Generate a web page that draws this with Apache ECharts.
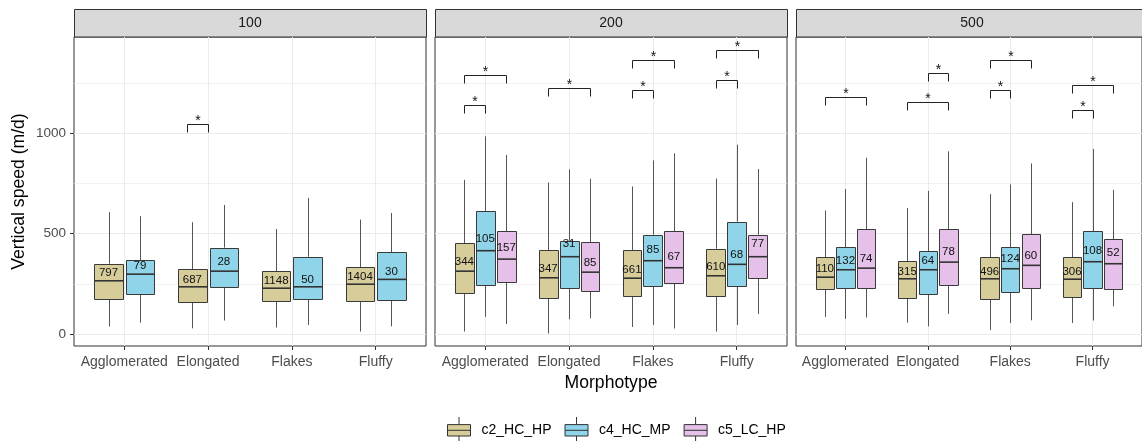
<!DOCTYPE html>
<html>
<head>
<meta charset="utf-8">
<script src="https://cdn.jsdelivr.net/npm/echarts@6/dist/echarts.min.js"></script>
<style>
    html, body { margin: 0; padding: 0; background: #fff; }
    #chart { width: 1142px; height: 441px; }
</style>
</head>
<body>
<div id="chart"></div>
<script>
// 分面：流速档位；每格里按形态分组的箱线图
const panels = ['100', '200', '500'];
const categories = ['Agglomerated', 'Elongated', 'Flakes', 'Fluffy'];
const groups = ['c2_HC_HP', 'c4_HC_MP', 'c5_LC_HP'];
const yMajor = [0, 500, 1000];
const yMinor = [250, 750, 1250];

// 每个箱子：[下须, Q1, 中位数, Q3, 上须]
const box100_c2 = [[37, 176, 265, 350, 607], [28, 159, 235, 322, 557], [32, 163, 228, 312, 523], [12, 163, 248, 332, 570]];
const box100_c4 = [[57, 200, 298, 367, 587], [67, 232, 313, 430, 643], [45, 172, 235, 385, 678], [38, 167, 272, 408, 603]];
const box200_c2 = [[12, 202, 313, 452, 768], [2, 178, 280, 417, 755], [35, 188, 278, 418, 735], [12, 190, 290, 425, 775]];
const box200_c4 = [[85, 243, 415, 612, 985], [73, 227, 385, 465, 820], [45, 240, 365, 495, 865], [45, 240, 347, 560, 943]];
const box200_c5 = [[50, 258, 373, 512, 892], [78, 213, 308, 458, 773], [27, 252, 330, 512, 900], [100, 277, 385, 495, 822]];
const box500_c2 = [[85, 222, 283, 383, 615], [57, 177, 275, 362, 628], [20, 173, 275, 383, 697], [55, 183, 273, 382, 657]];
const box500_c4 = [[75, 230, 320, 432, 722], [38, 198, 320, 413, 713], [55, 208, 325, 432, 745], [67, 227, 360, 512, 922]];
const box500_c5 = [[82, 228, 328, 523, 878], [100, 243, 358, 522, 910], [68, 227, 342, 497, 850], [138, 223, 350, 473, 718]];

// 样本数 n（标注在均值处）
const n100_c2 = [797, 687, 1148, 1404];
const n100_c4 = [79, 28, 50, 30];
const n200_c2 = [344, 347, 661, 610];
const n200_c4 = [105, 31, 85, 68];
const n200_c5 = [157, 85, 67, 77];
const n500_c2 = [110, 315, 496, 306];
const n500_c4 = [132, 64, 124, 108];
const n500_c5 = [74, 78, 60, 52];

// 均值
const mean100_c2 = [307, 268, 265, 285];
const mean100_c4 = [342, 360, 268, 310];
const mean200_c2 = [360, 325, 320, 335];
const mean200_c4 = [475, 448, 420, 395];
const mean200_c5 = [428, 357, 382, 447];
const mean500_c2 = [325, 310, 310, 310];
const mean500_c4 = [365, 365, 375, 412];
const mean500_c5 = [375, 410, 388, 402];

// 显著性括号：[形态序号, 组A, 组B, 高度]
const sig100 = [[1, 0, 1, 1047]];
const sig200 = [[0, 0, 1, 1142], [0, 0, 2, 1292], [1, 0, 2, 1228], [2, 0, 1, 1218], [2, 0, 2, 1367], [3, 0, 1, 1268], [3, 0, 2, 1417]];
const sig500 = [[0, 0, 2, 1180], [1, 0, 2, 1158], [1, 1, 2, 1303], [2, 0, 1, 1218], [2, 0, 2, 1363], [3, 0, 1, 1117], [3, 0, 2, 1243]];

const colors = ['#d6cd9b', '#8fd4e8', '#e5c0e8'];
const font = '"Liberation Sans", Arial, sans-serif';
const panelLeft = [74, 435, 796];
const panelWidth = 352;
const panelTop = 37;
const panelHeight = 309;
const yMin = -60;
const yMax = 1480;

const panelBoxes = [
    [[0, box100_c2, n100_c2, mean100_c2], [1, box100_c4, n100_c4, mean100_c4]],
    [[0, box200_c2, n200_c2, mean200_c2], [1, box200_c4, n200_c4, mean200_c4], [2, box200_c5, n200_c5, mean200_c5]],
    [[0, box500_c2, n500_c2, mean500_c2], [1, box500_c4, n500_c4, mean500_c4], [2, box500_c5, n500_c5, mean500_c5]]
];
const panelSig = [sig100, sig200, sig500];
const sigOffset = [-0.25, 0, 0.25];

const crisp = (v) => Math.round(v) + 0.5;

function boxSeries(gi, gIdx, stats, n, means, offset, width) {
    return {
        type: 'custom',
        name: groups[gIdx],
        xAxisIndex: gi,
        yAxisIndex: gi * 2,
        z: 3,
        itemStyle: { color: colors[gIdx], borderColor: '#333', borderWidth: 1 },
        data: stats.map((s, i) => [i + 1, s[0], s[1], s[2], s[3], s[4], n[i], means[i]]),
        encode: { x: 0, y: [1, 5] },
        renderItem: (params, api) => {
            const cx = api.value(0) + offset;
            const low = api.coord([cx, api.value(1)]);
            const q1 = api.coord([cx, api.value(2)]);
            const med = api.coord([cx, api.value(3)]);
            const q3 = api.coord([cx, api.value(4)]);
            const high = api.coord([cx, api.value(5)]);
            const mean = api.coord([cx, api.value(7)]);
            const half = api.size([width, 0])[0] / 2;
            const x = crisp(q3[0]);
            const left = crisp(q3[0] - half);
            const right = crisp(q3[0] + half);
            return {
                type: 'group',
                children: [
                    { type: 'line', shape: { x1: x, y1: high[1], x2: x, y2: q3[1] }, style: { stroke: '#555', lineWidth: 1 } },
                    { type: 'line', shape: { x1: x, y1: q1[1], x2: x, y2: low[1] }, style: { stroke: '#555', lineWidth: 1 } },
                    {
                        type: 'rect',
                        shape: { x: left, y: crisp(q3[1]), width: right - left, height: Math.round(q1[1]) - Math.round(q3[1]) },
                        style: { fill: colors[gIdx], stroke: '#3a3a3a', lineWidth: 1 }
                    },
                    { type: 'line', shape: { x1: left, y1: med[1], x2: right, y2: med[1] }, style: { stroke: '#333', lineWidth: 1.6 } },
                    {
                        type: 'text',
                        style: {
                            text: String(api.value(6)), x: mean[0], y: mean[1],
                            align: 'center', verticalAlign: 'middle',
                            fontSize: 11.5, fontFamily: font, fill: '#111'
                        }
                    }
                ]
            };
        }
    };
}

function sigSeries(gi, rows) {
    return {
        type: 'custom',
        name: 'sig',
        xAxisIndex: gi,
        yAxisIndex: gi * 2,
        z: 4,
        data: rows,
        encode: { x: 0, y: 3 },
        renderItem: (params, api) => {
            const cat = api.value(0) + 1;
            const y = api.value(3);
            const a = api.coord([cat + sigOffset[api.value(1)], y]);
            const b = api.coord([cat + sigOffset[api.value(2)], y]);
            const ly = crisp(a[1]);
            const x1 = crisp(a[0]);
            const x2 = crisp(b[0]);
            return {
                type: 'group',
                children: [
                    {
                        type: 'polyline',
                        shape: { points: [[x1, ly + 8], [x1, ly], [x2, ly], [x2, ly + 8]] },
                        style: { stroke: '#222', lineWidth: 1, fill: null }
                    },
                    {
                        type: 'text',
                        style: {
                            text: '*', x: (x1 + x2) / 2, y: ly - 3,
                            align: 'center', verticalAlign: 'middle',
                            fontSize: 14, fontFamily: font, fill: '#111'
                        }
                    }
                ]
            };
        }
    };
}

const grid = panels.map((p, gi) => ({
    left: panelLeft[gi],
    top: panelTop,
    width: panelWidth,
    height: panelHeight,
    show: true,
    borderColor: '#333',
    borderWidth: 1,
    backgroundColor: '#fff'
}));

const xAxis = panels.map((p, gi) => ({
    gridIndex: gi,
    type: 'value',
    min: 0.4,
    max: 4.6,
    axisLine: { show: false, onZero: false },
    axisTick: { show: true, length: 4, customValues: [1, 2, 3, 4], lineStyle: { color: '#333' } },
    axisLabel: {
        customValues: [1, 2, 3, 4],
        formatter: (v) => categories[Math.round(v) - 1],
        color: '#4d4d4d', fontSize: 14, fontFamily: font, margin: 9
    },
    splitLine: { show: true, lineStyle: { color: '#ebebeb', width: 1 } },
    name: gi === 1 ? 'Morphotype' : '',
    nameLocation: 'middle',
    nameGap: 26,
    nameTextStyle: { fontSize: 17.6, color: '#000', fontFamily: font }
}));

const yAxis = [];
panels.forEach((p, gi) => {
    yAxis.push({
        gridIndex: gi,
        type: 'value',
        min: yMin,
        max: yMax,
        axisLine: { show: false, onZero: false },
        axisTick: { show: gi === 0, length: 4, customValues: yMajor, lineStyle: { color: '#333' } },
        axisLabel: {
            show: gi === 0, customValues: yMajor, formatter: (v) => String(v),
            color: '#4d4d4d', fontSize: 13.5, fontFamily: font, margin: 8
        },
        splitLine: { show: true, lineStyle: { color: '#ebebeb', width: 1 } },
        name: gi === 0 ? 'Vertical speed (m/d)' : '',
        nameLocation: 'middle',
        nameGap: 46,
        nameTextStyle: { fontSize: 17.6, color: '#000', fontFamily: font }
    });
    yAxis.push({
        gridIndex: gi,
        type: 'value',
        min: yMin,
        max: yMax,
        axisLine: { show: false, onZero: false },
        axisTick: { show: false, customValues: yMinor },
        axisLabel: { show: false },
        splitLine: { show: true, lineStyle: { color: '#ebebeb', width: 0.7 } }
    });
});

const series = [];
panelBoxes.forEach((list, gi) => {
    const two = list.length === 2;
    list.forEach(([gIdx, stats, n, means], k) => {
        const offset = two ? (k === 0 ? -0.1875 : 0.1875) : sigOffset[k];
        series.push(boxSeries(gi, gIdx, stats, n, means, offset, two ? 0.3375 : 0.225));
    });
    series.push(sigSeries(gi, panelSig[gi]));
});

// 分面标题条
const graphic = [];
panels.forEach((p, gi) => {
    graphic.push({
        type: 'rect',
        shape: { x: panelLeft[gi] + 0.5, y: 9.5, width: panelWidth, height: 27.5 },
        style: { fill: '#d9d9d9', stroke: '#333', lineWidth: 1 }
    });
    graphic.push({
        type: 'text',
        x: panelLeft[gi] + panelWidth / 2,
        y: 23.5,
        style: { text: p, align: 'center', verticalAlign: 'middle', fontSize: 14, fontFamily: font, fill: '#1a1a1a' }
    });
});

const option = {
    animation: false,
    textStyle: { fontFamily: font },
    grid,
    xAxis,
    yAxis,
    legend: {
        data: groups,
        left: 442,
        top: 411.5,
        itemWidth: 23,
        itemHeight: 27,
        itemGap: 13,
        icon: 'path://M11.5,0V7.6M0,7.6H23V19H0ZM0,13.3H23M11.5,19V26.6',
        itemStyle: { borderColor: '#333', borderWidth: 1 },
        textStyle: { fontSize: 14, color: '#000', fontFamily: font, padding: [0, 0, 0, 6] }
    },
    graphic,
    series
};

const chart = echarts.init(document.getElementById('chart'));
chart.setOption(option);
</script>
</body>
</html>
